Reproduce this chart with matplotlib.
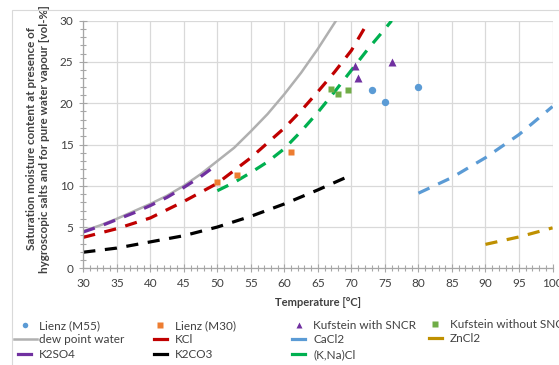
import numpy as np
import matplotlib as mpl
from matplotlib import pyplot as plt
from matplotlib.lines import Line2D
from matplotlib.legend_handler import HandlerLine2D
from matplotlib.patches import Rectangle
from matplotlib.ticker import MultipleLocator

plt.rcParams['font.family'] = ['Lato', 'DejaVu Sans']

#------------------------------------------------------------------------
# measured points ---------------------------------------------------------
#------------------------------------------------------------------------
t_m55 = [73, 75, 80]
w_m55 = [21.6, 20.2, 22.0]

t_m30 = [50, 53, 61]
w_m30 = [10.5, 11.3, 14.1]

t_sncr = [70.5, 71, 76]
w_sncr = [24.5, 23.1, 25.0]

t_nosncr = [67, 68, 69.5]
w_nosncr = [21.75, 21.1, 21.6]

#------------------------------------------------------------------------
# saturation curves -----------------------------------------------------
#------------------------------------------------------------------------
t_dew = [30, 32.5, 35, 37.5, 40, 42.5, 45, 47.5, 50, 52.5, 55, 57.5, 60, 62.5, 65, 67.7]
w_dew = [4.5, 5.2, 6.0, 6.9, 7.8, 8.8, 10.0, 11.4, 13.0, 14.6, 16.6, 18.7, 21.1, 23.7, 26.6, 30.0]

t_k2so4 = [30, 32.5, 35, 37.5, 40, 42.5, 45, 47.5, 49]
w_k2so4 = [4.4, 5.1, 5.9, 6.7, 7.6, 8.6, 9.8, 11.1, 12.0]

t_kcl = [30, 35, 40, 45, 50, 55, 60, 62.5, 65, 67.5, 70, 72.6]
w_kcl = [3.75, 4.8, 6.1, 8.1, 10.3, 13.4, 17.0, 19.1, 21.4, 23.8, 26.4, 30.0]

t_knacl = [50, 52.5, 55, 57.5, 60, 62.5, 65, 67.5, 70, 72.5, 75, 76]
w_knacl = [9.4, 10.4, 11.6, 12.9, 14.5, 16.6, 18.9, 21.4, 24.0, 26.6, 29.0, 30.0]

t_k2co3 = [30, 35, 40, 45, 50, 55, 60, 65, 70]
w_k2co3 = [1.95, 2.45, 3.2, 3.95, 5.0, 6.3, 7.8, 9.5, 11.3]

t_cacl2 = [80, 85, 90, 95, 100]
w_cacl2 = [9.1, 11.0, 13.4, 16.2, 19.6]

t_zncl2 = [90, 95, 100]
w_zncl2 = [2.9, 3.8, 4.9]

#------------------------------------------------------------------------
# colours ---------------------------------------------------------------
#------------------------------------------------------------------------
c_blue   = '#5B9BD5'
c_orange = '#ED7D31'
c_purple = '#7030A0'
c_lgreen = '#70AD47'
c_gray   = '#B0B0B0'
c_red    = '#C00000'
c_gold   = '#BF9000'
c_green  = '#00B050'
c_text   = '#404040'

dash = (3.8, 3.0)
lw_d = 2.3

#========================================================================
# Plot ==================================================================
#========================================================================
fig = plt.figure(figsize = (5.59, 3.65), dpi = 100)
ax = fig.add_axes([83.3/559, 1 - 268.3/365, (552.5 - 83.3)/559, (268.3 - 20.7)/365])

fig.patches.append(Rectangle((12/559, -0.1), 1.2, 1 - 10/365 + 0.1, transform = fig.transFigure,
                             fill = False, edgecolor = '#D9D9D9', linewidth = 0.8))

l_dew,   = ax.plot(t_dew, w_dew, color = c_gray, lw = 1.8, label = 'dew point water')
l_kcl,   = ax.plot(t_kcl, w_kcl, color = c_red, lw = lw_d, dashes = dash, label = 'KCl')
l_cacl2, = ax.plot(t_cacl2, w_cacl2, color = c_blue, lw = lw_d, dashes = dash, label = 'CaCl2')
l_zncl2, = ax.plot(t_zncl2, w_zncl2, color = c_gold, lw = lw_d, dashes = dash, label = 'ZnCl2')
l_k2so4, = ax.plot(t_k2so4, w_k2so4, color = c_purple, lw = lw_d, dashes = dash, label = 'K2SO4')
l_k2co3, = ax.plot(t_k2co3, w_k2co3, color = 'black', lw = lw_d, dashes = dash, label = 'K2CO3')
l_knacl, = ax.plot(t_knacl, w_knacl, color = c_green, lw = lw_d, dashes = dash, label = '(K,Na)Cl')

p_m55,    = ax.plot(t_m55, w_m55, 'o', color = c_blue, ms = 5.3, mec = 'none', label = 'Lienz (M55)')
p_m30,    = ax.plot(t_m30, w_m30, 's', color = c_orange, ms = 5.0, mec = 'none', label = 'Lienz (M30)')
p_sncr,   = ax.plot(t_sncr, w_sncr, '^', color = c_purple, ms = 5.5, mec = 'none', label = 'Kufstein with SNCR')
p_nosncr, = ax.plot(t_nosncr, w_nosncr, 's', color = c_lgreen, ms = 5.0, mec = 'none', label = 'Kufstein without SNCR')

ax.set_xlim(30, 100)
ax.set_ylim(0, 30)
ax.xaxis.set_major_locator(MultipleLocator(5))
ax.xaxis.set_minor_locator(MultipleLocator(1))
ax.yaxis.set_major_locator(MultipleLocator(5))
ax.yaxis.set_minor_locator(MultipleLocator(1))

ax.grid(True, which = 'major', color = '#D9D9D9', lw = 0.9)
ax.set_axisbelow(True)
for s in ['top', 'right']:
    ax.spines[s].set_visible(False)
for s in ['left', 'bottom']:
    ax.spines[s].set_color('#A6A6A6')
    ax.spines[s].set_linewidth(0.9)

ax.tick_params(which = 'major', direction = 'inout', length = 6, width = 0.8, color = '#A6A6A6',
               labelsize = 8.5, labelcolor = c_text, pad = 4)
ax.tick_params(which = 'minor', direction = 'inout', length = 5, width = 0.8, color = '#A6A6A6')

ax.set_xlabel('Temperature [°C]', fontsize = 8, fontweight = 'bold', color = c_text)
ax.xaxis.set_label_coords(0.5, -(302.3 - 268.3)/247.6, transform = ax.transAxes)
ax.xaxis.label.set_va('center')

ax.set_ylabel('Saturation moisture content at presence of\nhygroscopic salts and for pure water vapour [vol-%]',
              fontsize = 8.4, fontweight = 'bold', color = c_text, linespacing = 1.2)
ax.yaxis.set_label_coords((50 - 83.3)/469.2, (268.3 - 139)/247.6)

#------------------------------------------------------------------------
# Legend: four single-column legends so that the columns line up --------
#------------------------------------------------------------------------
class LegLine(HandlerLine2D):
    def __init__(self, x0, x1, xm, **kw):
        HandlerLine2D.__init__(self, **kw)
        self.x0, self.x1, self.xm = x0, x1, xm
    def get_xdata(self, legend, xdescent, ydescent, width, height, fontsize):
        return (np.array([self.x0, self.x1])*width - xdescent,
                np.array([self.xm])*width - xdescent)

def proxy(line):
    h = Line2D([], [], color = line.get_color(), lw = line.get_linewidth(), ls = '-',
               marker = line.get_marker(), ms = line.get_markersize()*0.75, mec = 'none')
    if line.get_marker() not in ('None', None, ''):
        h.set_linestyle('None')
    return h

h_full  = LegLine(0.0, 1.0, 0.55)
h_short = LegLine(0.17, 0.74, 0.55)

cols = [[p_m55, l_dew, l_k2so4],
        [p_m30, l_kcl, l_k2co3],
        [p_sncr, l_cacl2, l_knacl],
        [p_nosncr, l_zncl2]]
text_x = [39.3, 175, 313.3, 450]
rows_y = [323.3, 340, 356.3]

fs = 8.5
hl_px = 23
for col, tx in zip(cols, text_x):
    handles = [proxy(l) for l in col]
    hmap = {}
    for h, l in zip(handles, col):
        hmap[h] = h_full if l is l_dew else h_short
    yc = np.mean(rows_y[:len(col)])
    lg = fig.legend(handles, [l.get_label() for l in col], handler_map = hmap,
                    loc = 'center left', bbox_to_anchor = ((tx - 2 - hl_px)/559, 1 - yc/365),
                    frameon = False, fontsize = fs, borderpad = 0, borderaxespad = 0,
                    handlelength = hl_px/(fs*100/72), handletextpad = 2/(fs*100/72),
                    labelspacing = 0.3, labelcolor = c_text)

plt.savefig('out.png', dpi = 100)
